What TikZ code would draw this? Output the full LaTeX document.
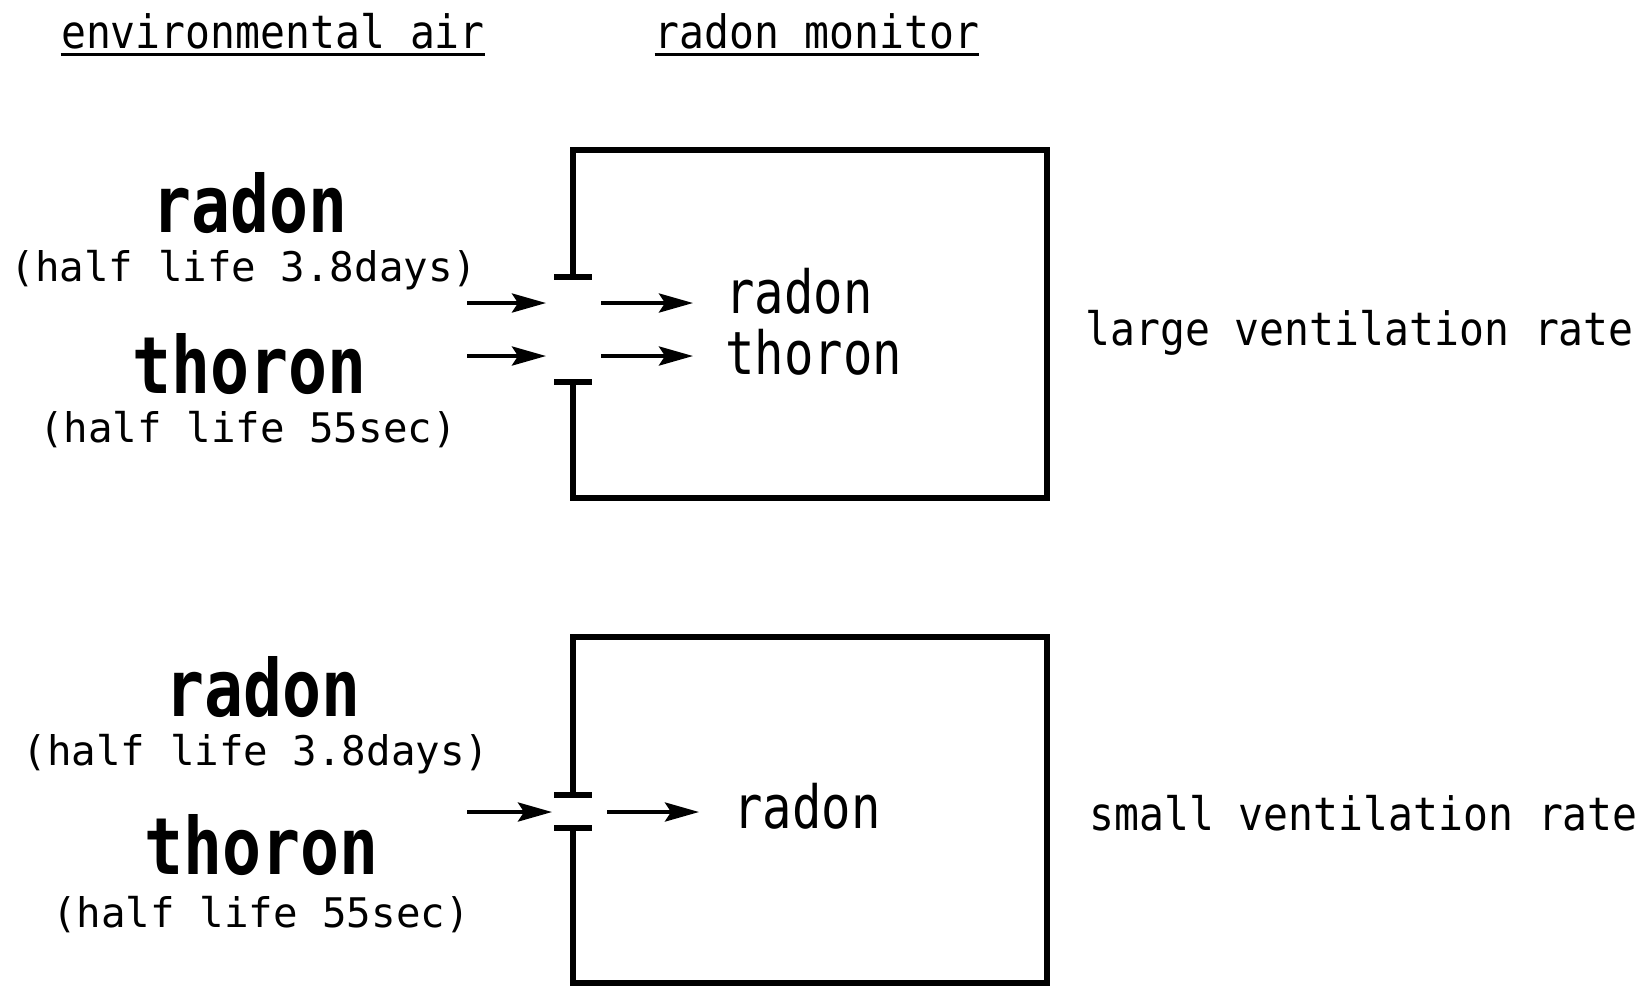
\documentclass[tikz,border=0pt]{standalone}
\usepackage{fontspec}
\setmainfont{DejaVu Sans Mono}[FakeStretch=0.9]
\newfontfamily\narrowmono{DejaVu Sans Mono}[FakeStretch=0.82]
\newfontfamily\plainmono{DejaVu Sans Mono}
\usepackage{tikz}
\usetikzlibrary{positioning, arrows.meta, calc}

\begin{document}
\begin{tikzpicture}[
    x=0.5pt, y=-0.5pt,
    txt/.style={inner sep=0pt, anchor=base},
    head/.style={txt, font=\fontsize{23}{28}\selectfont},
    gas/.style={txt, font=\narrowmono\bfseries\fontsize{39.5}{46}\selectfont},
    life/.style={txt, font=\plainmono\fontsize{20.4}{24}\selectfont},
    inside/.style={txt, anchor=base west, font=\narrowmono\fontsize{29.8}{35}\selectfont},
    rate/.style={txt, anchor=base west, font=\fontsize{23}{28}\selectfont},
    wall/.style={line width=3pt},
    uline/.style={line width=1.5pt},
    arrow/.style={line width=2pt, -{Stealth[length=17pt, width=9.5pt, inset=3pt]}}
]
\useasboundingbox (0,0) rectangle (1648,986);

% Headings
\node[head] (envhead) at (273,48) {environmental air};
\node[head] (monhead) at (817,48) {radon monitor};
\draw[uline] ([yshift=-3pt]envhead.base west) -- ([yshift=-3pt]envhead.base east);
\draw[uline] ([yshift=-3pt]monhead.base west) -- ([yshift=-3pt]monhead.base east);

% Top: large ventilation rate
\node[gas] (rn1) at (250,232) {radon};
\node[life] (rnlife1) at (244,281) {(half life 3.8days)};
\node[gas] (tn1) at (250,393) {thoron};
\node[life] (tnlife1) at (248,442) {(half life 55sec)};
\node[inside] (rnin1) at (725,313) {radon};
\node[inside] (tnin1) at (725,374) {thoron};
\node[rate] (large) at (1085,345) {large ventilation rate};

\draw[wall] (573,277) -- (573,150) -- (1047,150) -- (1047,498) -- (573,498) -- (573,382);
\draw[wall] (554,277) -- (592,277);
\draw[wall] (554,382) -- (592,382);

\coordinate (a1) at (467,303);
\coordinate (b1) at (546,303);
\coordinate (c1) at (601,303);
\coordinate (d1) at (693,303);
\coordinate (a2) at (467,356);
\coordinate (b2) at (546,356);
\coordinate (c2) at (601,356);
\coordinate (d2) at (693,356);
\draw[arrow] (a1) -- (b1);
\draw[arrow] (c1) -- (d1);
\draw[arrow] (a2) -- (b2);
\draw[arrow] (c2) -- (d2);

% Bottom: small ventilation rate
\node[gas] (rn2) at (263,716) {radon};
\node[life] (rnlife2) at (256,765) {(half life 3.8days)};
\node[gas] (tn2) at (262,874) {thoron};
\node[life] (tnlife2) at (261,927) {(half life 55sec)};
\node[inside] (rnin2) at (733,828) {radon};
\node[rate] (small) at (1089,830) {small ventilation rate};

\draw[wall] (573,795) -- (573,637) -- (1047,637) -- (1047,983) -- (573,983) -- (573,828);
\draw[wall] (554,795) -- (592,795);
\draw[wall] (554,828) -- (592,828);

\coordinate (a3) at (467,812);
\coordinate (b3) at (552,812);
\coordinate (c3) at (607,812);
\coordinate (d3) at (699,812);
\draw[arrow] (a3) -- (b3);
\draw[arrow] (c3) -- (d3);
\end{tikzpicture}
\end{document}
